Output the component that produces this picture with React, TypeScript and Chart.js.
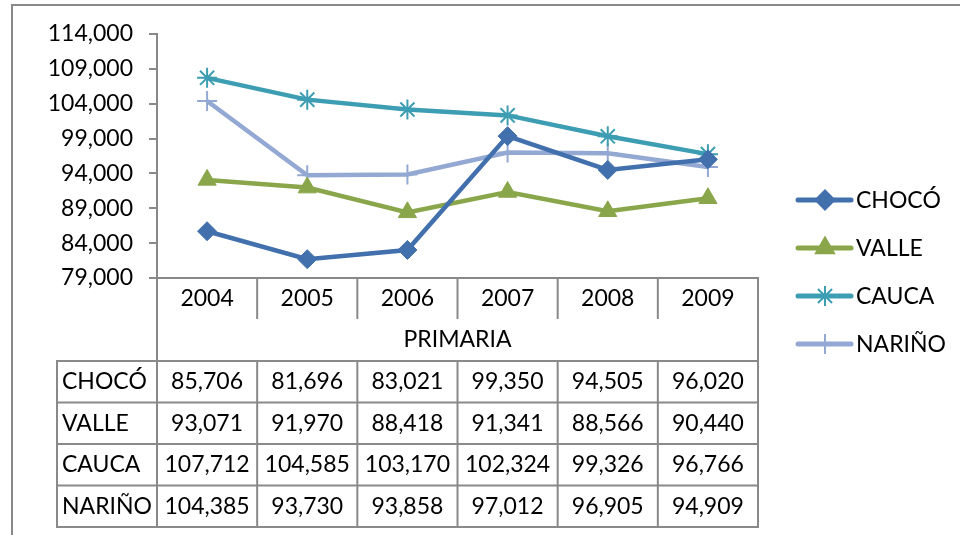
import React, { useEffect, useRef } from "react";
import { Chart, registerables } from "chart.js";
import { drawPoint } from "chart.js/helpers";
Chart.register(...registerables);

const years = ["2004", "2005", "2006", "2007", "2008", "2009"];
const groupLabel = "PRIMARIA";
const seriesNames = ["CHOCÓ", "VALLE", "CAUCA", "NARIÑO"];
const choco = [85706, 81696, 83021, 99350, 94505, 96020];
const valle = [93071, 91970, 88418, 91341, 88566, 90440];
const cauca = [107712, 104585, 103170, 102324, 99326, 96766];
const narino = [104385, 93730, 93858, 97012, 96905, 94909];
const yMin = 79000;
const yMax = 114000;
const yStep = 5000;

const FONT = "Lato, 'Open Sans', sans-serif";
const FONT_SIZE = 23;
const GRAY = "#898989";
const colors = ["#4170ad", "#8aa64b", "#3d9db3", "#93a8d2"];
const styles: any[] = ["rectRot", "triangle", "star", "cross"];
const radii = [9.5, 10.5, 10, 10];
const seriesData = [choco, valle, cauca, narino];

const fmt = (v: number) => v.toLocaleString("en-US");

const tablePlugin = {
  id: "tablePlugin",
  beforeDraw(chart: any) {
    const ctx = chart.ctx;
    ctx.save();
    ctx.strokeStyle = GRAY;
    ctx.lineWidth = 2;
    ctx.beginPath();
    ctx.moveTo(12, 600);
    ctx.lineTo(12, 5);
    ctx.lineTo(1000, 5);
    ctx.stroke();
    ctx.restore();
  },
  afterDraw(chart: any) {
    const ctx = chart.ctx;
    const x = chart.scales.x;
    const area = chart.chartArea;
    const n = years.length;
    const centers = years.map((_, i) => x.getPixelForValue(i));
    const half = (centers[1] - centers[0]) / 2;
    const bounds = [centers[0] - half, ...centers.map((c) => c + half)];
    const top = area.bottom;
    const headerBottom = top + 41;
    const primBottom = top + 83;
    const rowH = 41.5;
    const bottom = primBottom + rowH * seriesNames.length;
    const labelLeft = 57;

    ctx.save();
    ctx.strokeStyle = GRAY;
    ctx.lineWidth = 2;
    ctx.beginPath();
    ctx.moveTo(bounds[0], top);
    ctx.lineTo(bounds[0], bottom);
    ctx.moveTo(bounds[n], top);
    ctx.lineTo(bounds[n], bottom);
    for (let i = 1; i < n; i++) {
      ctx.moveTo(bounds[i], top);
      ctx.lineTo(bounds[i], headerBottom);
      ctx.moveTo(bounds[i], primBottom);
      ctx.lineTo(bounds[i], bottom);
    }
    ctx.moveTo(labelLeft, primBottom);
    ctx.lineTo(labelLeft, bottom);
    for (let r = 0; r <= seriesNames.length; r++) {
      const yy = primBottom + r * rowH;
      ctx.moveTo(labelLeft - 1, yy);
      ctx.lineTo(bounds[n] + 1, yy);
    }
    ctx.stroke();

    ctx.fillStyle = "#000";
    ctx.font = `${FONT_SIZE}px ${FONT}`;
    ctx.textBaseline = "middle";
    ctx.textAlign = "center";
    years.forEach((yr, i) => ctx.fillText(yr, centers[i], top + 21));
    ctx.fillText(groupLabel, (bounds[0] + bounds[n]) / 2, headerBottom + 21);
    seriesNames.forEach((name, r) => {
      const cy = primBottom + r * rowH + rowH / 2;
      ctx.textAlign = "left";
      ctx.fillText(name, labelLeft + 5, cy);
      ctx.textAlign = "center";
      seriesData[r].forEach((v, i) => ctx.fillText(fmt(v), centers[i], cy));
    });

    // legend
    seriesNames.forEach((name, r) => {
      const ly = 200 + r * 48;
      ctx.strokeStyle = colors[r];
      ctx.lineWidth = 5;
      ctx.lineCap = "round";
      ctx.beginPath();
      ctx.moveTo(798, ly);
      ctx.lineTo(851, ly);
      ctx.stroke();
      ctx.lineCap = "butt";
      ctx.fillStyle = colors[r];
      ctx.strokeStyle = colors[r];
      ctx.lineWidth = 2;
      drawPoint(ctx, { pointStyle: styles[r], radius: radii[r], rotation: 0, borderWidth: 2 } as any, 825, ly);
      ctx.fillStyle = "#000";
      ctx.textAlign = "left";
      ctx.fillText(name, 856, ly + 1);
    });
    ctx.restore();
  },
};

export default function App() {
  const ref = useRef<HTMLCanvasElement>(null);
  useEffect(() => {
    if (!ref.current) return;
    const chart = new Chart(ref.current, {
      type: "line",
      data: {
        labels: years,
        datasets: seriesNames.map((name, i) => ({
          label: name,
          data: seriesData[i],
          borderColor: colors[i],
          backgroundColor: colors[i],
          borderWidth: 4.5,
          pointStyle: styles[i],
          pointRadius: radii[i],
          pointBorderWidth: i < 2 ? 1 : 2,
          pointBackgroundColor: colors[i],
          pointBorderColor: colors[i],
          tension: 0,
          fill: false,
        })),
      },
      options: {
        animation: false,
        responsive: false,
        maintainAspectRatio: false,
        layout: { padding: { left: 0, top: 34, right: 202, bottom: 0 } },
        plugins: { legend: { display: false }, tooltip: { enabled: false }, title: { display: false } },
        scales: {
          x: {
            type: "category",
            offset: true,
            grid: { display: false },
            ticks: { display: false },
            border: { display: true, color: GRAY, width: 2 },
            afterFit: (s: any) => {
              s.height = 257;
            },
          },
          y: {
            min: yMin,
            max: yMax,
            ticks: {
              stepSize: yStep,
              padding: 16,
              color: "#000",
              font: { family: FONT, size: FONT_SIZE },
              callback: (v: any) => fmt(Number(v)),
            },
            grid: { drawOnChartArea: false, drawTicks: true, tickLength: 8, color: GRAY, lineWidth: 2 },
            border: { display: true, color: GRAY, width: 2 },
            afterFit: (s: any) => {
              s.width = 157;
            },
          },
        },
      },
      plugins: [tablePlugin],
    });
    return () => chart.destroy();
  }, []);
  return (
    <div style={{ position: "absolute", left: 0, top: 0, width: 960, height: 535, background: "#fff" }}>
      <canvas ref={ref} width={960} height={535} style={{ width: 960, height: 535, display: "block" }} />
    </div>
  );
}
